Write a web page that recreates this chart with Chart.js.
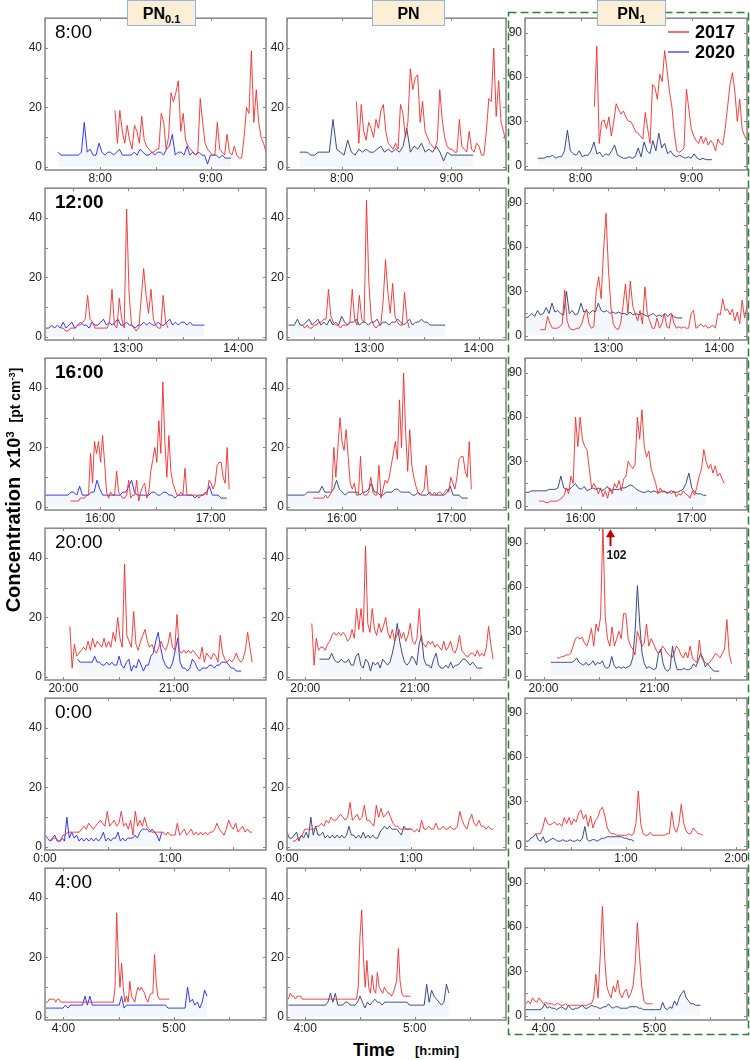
<!DOCTYPE html>
<html><head><meta charset="utf-8">
<script src="https://cdn.jsdelivr.net/npm/chart.js@4.4.1/dist/chart.umd.min.js"></script>
<style>
html,body{margin:0;padding:0;background:#fff}
body{width:750px;height:1060px;position:relative;overflow:hidden;font-family:'Liberation Sans',Arial,sans-serif;color:#000}
canvas{position:absolute;z-index:1}
.hdr{position:absolute;top:0;height:26px;background:#fcefd5;border:1px solid #93b5dd;box-sizing:border-box;font-weight:bold;font-size:16px;text-align:center;line-height:25px;z-index:4}
.hdr sub{font-size:11px;vertical-align:-4px;line-height:0}
.rowlab{position:absolute;left:55px;font-size:19px;line-height:19px;z-index:3;white-space:nowrap}
.leg{position:absolute;font-weight:bold;font-size:18px;line-height:18px;z-index:3}
.legl{position:absolute;height:2px;width:21px;z-index:3}
#ytitle{position:absolute;left:14px;top:490px;transform:translate(-50%,-50%) rotate(-90deg);white-space:nowrap;font-weight:bold;line-height:22px;z-index:3}
#ytitle sup{font-size:65%;line-height:0;vertical-align:0.55em}
svg{position:absolute;left:0;top:0;z-index:2}
</style></head>
<body>
<svg width="750" height="1060"><rect x="508.5" y="12.5" width="240" height="1022" fill="none" stroke="#2f7f33" stroke-width="1.5" stroke-dasharray="8 4"/></svg>
<div class="hdr" style="left:127px;width:69px">PN<sub>0.1</sub></div>
<div class="hdr" style="left:372px;width:73px">PN</div>
<div class="hdr" style="left:597px;width:69px">PN<sub>1</sub></div>
<div class="legl" style="left:668px;top:31px;background:#f07070"></div>
<div class="leg" style="left:695px;top:23px">2017</div>
<div class="legl" style="left:668px;top:51px;background:#7c7cf0"></div>
<div class="leg" style="left:695px;top:43px">2020</div>
<div id="ytitle"><span style="font-size:20px">Concentration</span>&nbsp;&nbsp;<span style="font-size:18px">x10<sup>3</sup></span>&nbsp;&nbsp;<span style="font-size:14px">[pt cm<sup>-3</sup>]</span></div>
<div style="position:absolute;left:353px;top:1041px;font-weight:bold;font-size:18px;line-height:18px">Time</div>
<div style="position:absolute;left:415px;top:1044px;font-weight:bold;font-size:13px;line-height:13px">[h:min]</div>
<script>
// ---------------- DATA ----------------
const rowLabels = ['8:00','12:00','16:00','20:00','0:00','4:00'];
const columnNames = ['PN0.1','PN','PN1'];
const seriesNames = ['2017','2020'];

// x-axis windows (minutes of the day) per row
const xMin_PN01 = [450,735,930,1190,0,230];
const xMax_PN01 = [570,855,1050,1310,106,350];
const xMin_PN   = [450,735,930,1190,0,230];
const xMax_PN   = [570,855,1050,1310,106,350];
const xMin_PN1  = [450,735,930,1190,5,230];
const xMax_PN1  = [570,855,1050,1310,126,350];

// x tick labels (minutes of the day)
const xTicks_PN01 = [[480,540],[780,840],[960,1020],[1200,1260],[0,60],[240,300]];
const xTicks_PN   = [[480,540],[780,840],[960,1020],[1200,1260],[0,60],[240,300]];
const xTicks_PN1  = [[480,540],[780,840],[960,1020],[1200,1260],[60,120],[240,300]];

// y ticks
const yTicks_PN  = [0,20,40];
const yMinor_PN  = [0,10,20,30,40];
const yTicks_PN1 = [0,30,60,90];
const yMinor_PN1 = [0,15,30,45,60,75,90];

// measurement start / end times (minutes) for each series, per row
const start2017_PN01 = [488,743.6,943.8,1203.5,3,230.5];
const end2017_PN01   = [570,801.8,1030,1302.5,99.3,297.5];
const start2020_PN01 = [457,735.5,930,1207.7,0,230.5];
const end2020_PN01   = [551,821.5,1028.7,1296.5,56,318];
const start2017_PN   = [488,743.4,944.4,1203.6,2.8,230.8];
const end2017_PN     = [570,802,1031,1302.9,99.8,297.7];
const start2020_PN   = [457,735.8,930,1207.8,0,230.8];
const end2020_PN     = [552,821.6,1029,1297,60,318.7];
const start2017_PN1  = [487.5,743.3,937.5,1207.3,10.8,230.5];
const end2017_PN1    = [570,855,1037.8,1301.6,101.9,299];
const start2020_PN1  = [457,735.5,930.5,1204,5.5,230.5];
const end2020_PN1    = [551,820,1028,1295,64.4,324.8];

// concentrations x10^3 pt/cm3
const PN01_2017_08 = [19,8,19,12,8,14,9,6,14,12,8,17,9,7,6,5,5,6,6,18,15,6,10,25,22,25,29,12,18,9,7,6,5,4,5,23,15,8,6,5,4,4,15,6,5,4,11,5,4,7,4,3,3,10,20,18,39,15,26,15,10,8,5];
const PN01_2020_08 = [5,4,4,4,4,4,4,4,5,15,5,6,4,4,8,5,4,5,5,4,5,6,4,4,4,4,5,4,6,5,4,4,5,4,5,5,4,6,7,11,4,5,5,4,7,4,5,4,5,4,4,1,4,4,4,3,4,3,3,3];
const PN_2017_08 = [22,8,21,12,9,15,13,10,16,13,19,21,12,8,7,6,8,6,21,18,10,15,33,26,30,31,15,22,12,10,8,7,6,9,26,16,10,7,6,6,5,5,16,7,6,5,12,6,5,8,7,4,4,12,23,22,40,17,29,15,12,8];
const PN_2020_08 = [5,5,5,4,4,5,5,5,5,16,6,5,4,9,5,4,6,5,6,5,5,6,7,5,6,5,6,5,7,13,5,7,6,8,5,6,5,7,5,2,5,4,4,4,4,4,4,4];
const PN1_2017_08 = [40,81,15,30,31,25,33,20,30,42,38,35,37,33,30,30,27,23,22,20,18,36,25,15,55,53,45,62,57,78,65,50,40,22,10,9,10,12,52,38,25,20,17,15,20,15,19,14,17,15,10,18,15,14,25,40,55,63,50,30,45,25,20,17];
const PN1_2020_08 = [5,5,5,6,6,7,5,6,6,10,24,10,8,7,10,6,7,7,10,16,8,9,6,8,7,10,14,7,6,5,5,6,5,6,12,6,16,10,8,17,10,22,12,15,8,10,7,6,7,6,5,6,5,8,5,4,5,4,4,4];

const PN01_2017_12 = [3,3,2,2,3,3,3,4,4,5,6,14,6,5,3,3,3,3,3,3,5,16,4,3,13,6,3,43,15,4,3,2,3,13,23,14,8,16,6,4,3,3,14,5,3];
const PN01_2020_12 = [3,3,4,3,4,3,5,3,4,5,3,4,5,4,4,3,5,4,4,5,6,4,5,4,5,6,4,4,5,4,4,3,4,4,5,4,5,4,4,5,4,4,5,6,4,5,4,5,5,4,5,4,4,4,4,4];
const PN_2017_12 = [4,3,4,3,3,4,4,5,5,6,6,16,7,5,4,4,3,4,4,4,5,16,6,4,14,6,5,46,18,6,4,3,4,4,12,26,15,8,18,7,5,4,4,15,6,3];
const PN_2020_12 = [4,4,4,6,4,4,5,6,4,5,6,4,5,4,6,4,5,4,7,5,4,5,5,6,4,5,5,4,5,5,6,4,5,5,4,5,5,6,5,4,5,6,4,5,5,6,5,5,4,4,4,4,4,4];
const PN1_2017_12 = [4,4,4,13,8,5,5,5,6,8,31,10,5,4,4,5,5,8,14,18,8,5,6,30,40,25,58,83,45,20,8,5,4,8,20,35,15,37,20,15,10,17,8,33,15,10,5,5,12,5,8,15,6,5,15,8,5,6,5,6,5,5,15,17,5,6,8,6,7,5,6,7,5,15,14,25,17,18,14,18,10,16,8,24,12,20];
const PN1_2020_12 = [12,13,15,13,17,14,15,19,15,22,16,17,15,14,30,15,17,14,15,22,16,17,15,17,16,22,17,16,17,15,16,15,16,15,15,14,16,14,15,14,15,14,13,14,15,13,14,13,15,13,15,13,12,12,12];

const PN01_2017_16 = [2,2,2,2,2,3,3,3,4,4,18,8,22,18,22,15,24,15,5,3,5,4,4,12,5,4,3,3,4,9,3,4,4,9,2,5,7,8,3,5,12,16,20,15,29,18,42,22,10,24,12,8,6,4,4,5,4,13,4,4,4,4,4,4,3,4,4,5,4,9,8,6,8,14,15,15,10,8,20,6];
const PN01_2020_16 = [4,4,4,4,4,4,4,4,4,5,5,4,7,4,4,4,5,5,9,6,4,4,4,4,4,4,4,5,5,7,9,5,4,4,4,4,4,5,5,4,4,5,5,4,4,3,4,4,4,4,4,4,3,4,4,4,5,7,4,4,4,3,3,3];
const PN_2017_16 = [3,3,3,3,3,3,4,3,4,5,20,10,20,30,22,19,26,17,8,6,8,4,4,17,5,4,4,5,10,5,4,4,14,3,6,9,8,10,14,18,22,16,36,20,45,25,12,26,14,10,7,5,4,5,6,14,5,4,4,5,4,5,5,4,5,6,5,10,8,6,10,16,17,17,12,10,22,6];
const PN_2020_16 = [4,4,4,4,4,4,4,5,5,5,5,5,7,5,5,5,6,9,6,5,4,5,5,5,5,4,5,5,6,8,5,5,4,4,5,5,5,6,6,5,5,5,5,4,4,5,4,4,4,5,4,4,4,4,4,5,7,4,4,4,3,3,3];
const PN1_2017_16 = [3,3,3,2,2,3,3,3,3,4,5,7,12,8,20,15,60,40,60,45,40,38,25,12,15,12,8,12,6,10,5,12,8,15,12,17,10,18,20,30,27,25,28,60,45,65,40,33,37,25,20,15,8,12,9,10,8,9,8,10,6,8,7,10,8,7,5,10,7,13,20,25,38,30,25,28,22,27,20,22,18,15];
const PN1_2020_16 = [9,9,10,10,10,10,10,10,11,11,11,12,20,12,11,11,13,15,12,11,13,10,11,12,11,12,10,11,13,10,11,11,11,12,12,13,14,13,11,10,9,9,10,9,10,9,9,10,9,9,10,9,9,10,11,15,22,12,9,8,8,7,7];

const PN01_2017_20 = [17,3,11,7,8,9,10,9,12,9,13,10,12,11,10,13,10,12,10,15,12,20,13,10,38,14,12,10,22,11,9,12,14,16,12,10,11,9,8,10,12,10,9,11,15,10,9,21,9,8,9,8,9,8,9,8,7,6,10,5,8,7,6,8,7,5,14,8,6,5,6,5,6,8,6,5,6,9,15,10,5];
const PN01_2020_20 = [6,5,5,5,5,5,5,7,5,5,4,4,5,4,5,4,4,7,4,3,5,6,2,4,3,6,4,2,4,4,7,8,12,15,10,6,4,3,3,5,9,13,5,3,3,2,3,6,5,3,2,3,3,3,4,4,3,4,4,5,5,5,4,3,3,2,2,2];
const PN_2017_20 = [18,4,13,9,10,10,9,11,12,14,15,14,15,14,15,14,12,13,16,13,23,16,23,15,44,18,15,23,16,14,18,15,17,20,15,13,16,12,14,16,13,15,12,14,18,12,11,13,23,12,11,10,12,11,12,10,11,10,9,12,9,10,12,9,8,10,14,9,8,7,7,8,8,7,9,7,8,7,10,17,11,6];
const PN_2020_20 = [6,6,6,6,6,8,6,5,5,6,5,5,6,4,4,7,8,4,3,6,5,2,5,4,5,3,6,5,4,5,8,12,18,12,8,5,4,5,7,6,4,11,14,6,4,4,3,6,8,4,3,3,4,3,5,3,4,4,5,6,6,5,4,5,4,3,3,3];
const PN1_2017_20 = [12,12,13,13,14,14,15,20,25,26,25,26,22,20,25,32,20,35,30,40,102,40,25,20,33,20,25,30,25,42,42,25,20,18,14,30,25,20,22,35,20,25,22,18,15,16,20,18,15,14,12,15,20,18,14,12,16,12,20,12,10,9,24,12,10,8,8,10,12,15,14,12,15,18,38,15,8];
const PN1_2020_20 = [9,9,9,9,9,9,9,9,9,9,10,12,9,8,7,9,7,8,10,7,9,8,10,6,5,6,13,7,5,6,5,6,5,6,7,12,30,61,35,15,8,5,6,5,4,5,15,18,8,4,3,5,20,10,4,4,4,5,4,4,5,8,6,10,15,12,6,8,6,4,3,3,3];

const PN01_2017_00 = [2,3,3,2,2,4,4,5,5,5,5,5,5,6,7,6,8,7,6,7,8,9,8,7,12,7,8,9,7,8,12,7,8,6,9,4,12,7,9,7,10,7,6,5,5,5,5,5,5,4,5,4,4,4,8,4,5,6,4,5,6,4,5,4,5,4,5,4,5,5,6,8,6,5,4,6,9,7,6,8,5,6,7,5,6,5,5];
const PN01_2020_00 = [4,3,2,3,4,2,2,3,2,10,3,5,3,4,2,3,2,3,2,3,2,3,2,3,5,2,3,2,3,3,5,2,3,2,3,3,3,4,3,5,6,6,6,5,6,5,4,2,5];
const PN_2017_00 = [2,2,3,3,4,6,6,6,6,6,7,7,8,7,9,8,10,9,9,10,11,10,9,10,15,9,10,11,9,10,14,9,9,8,7,14,10,13,10,11,12,10,8,7,7,6,6,6,6,6,6,5,6,5,9,6,6,7,6,6,8,6,6,7,6,6,7,6,6,7,12,9,7,6,9,11,8,7,9,7,7,6,7,6,6];
const PN_2020_00 = [5,3,3,4,5,2,4,3,5,3,10,4,7,4,4,5,3,4,3,4,3,4,3,4,3,4,7,4,4,3,4,3,5,3,4,3,4,3,3,5,6,7,6,7,6,6,6,5,4,7,6,6,6];
const PN1_2017_00 = [8,8,8,12,19,15,14,15,16,14,15,13,19,15,19,14,18,16,22,24,18,21,13,20,12,17,19,24,26,20,12,9,8,8,7,7,7,7,7,8,7,8,15,37,15,8,7,7,9,7,7,7,7,7,7,8,8,23,12,9,15,28,15,10,8,8,12,10,8,8,7];
const PN1_2020_00 = [3,3,5,6,8,4,3,6,2,3,4,5,4,3,3,4,3,3,4,3,3,4,3,5,13,4,3,4,4,3,4,5,5,6,6,6,6,6,6,6,5,5,4,4,3];

const PN01_2017_04 = [5,5,6,6,6,6,5,6,6,5,5,5,5,5,5,5,5,5,5,5,5,5,5,5,5,5,5,5,5,5,5,5,5,5,5,5,5,5,5,5,5,5,10,35,20,10,18,10,5,7,5,12,7,6,5,8,10,9,10,9,8,6,5,7,8,8,21,12,7,6,6,6,6,6,6,6];
const PN01_2020_04 = [3,3,3,3,3,3,3,3,4,3,4,4,4,4,4,4,7,4,7,4,4,4,4,4,4,4,4,4,4,4,4,7,3,4,4,4,4,4,4,4,4,4,4,4,4,4,4,4,4,4,3,3,3,3,3,3,3,3,10,5,6,4,5,3,5,9,7];
const PN_2017_04 = [6,8,7,7,6,7,7,7,6,6,6,6,6,6,6,6,6,6,6,6,6,6,6,6,6,6,6,6,6,6,6,6,6,6,6,6,6,6,6,6,10,27,36,20,10,19,10,8,14,9,8,15,10,9,8,10,9,8,8,7,8,10,12,23,12,8,7,7,7,7,7];
const PN_2020_04 = [4,4,4,4,4,4,4,4,4,4,4,4,4,4,4,4,5,8,5,8,4,4,4,5,5,4,4,4,5,7,5,3,5,4,5,6,5,5,4,5,5,5,5,5,5,5,5,5,5,4,4,4,4,4,4,4,11,5,9,7,6,5,4,5,11,8];
const PN1_2017_04 = [8,10,8,12,10,9,12,10,8,9,8,8,8,7,8,8,7,7,8,7,7,7,7,7,7,7,7,7,7,8,8,12,28,12,40,74,40,20,15,12,20,16,24,15,12,16,18,12,15,20,35,63,40,20,10,8,8,8,8];
const PN1_2020_04 = [4,4,4,4,4,4,4,5,8,5,6,5,5,4,5,6,5,4,7,5,4,5,5,6,7,5,5,6,7,6,6,5,5,6,6,8,6,5,6,6,5,5,5,5,6,6,6,6,5,5,4,4,4,4,4,4,4,4,9,5,4,6,5,10,7,12,15,17,12,10,8,8,7,7,7];

// annotation for the clipped peak
const peakLabel = '102';

// ---------------- BUILD ----------------
const S2017 = {
  PN01:[PN01_2017_08,PN01_2017_12,PN01_2017_16,PN01_2017_20,PN01_2017_00,PN01_2017_04],
  PN:[PN_2017_08,PN_2017_12,PN_2017_16,PN_2017_20,PN_2017_00,PN_2017_04],
  PN1:[PN1_2017_08,PN1_2017_12,PN1_2017_16,PN1_2017_20,PN1_2017_00,PN1_2017_04]};
const S2020 = {
  PN01:[PN01_2020_08,PN01_2020_12,PN01_2020_16,PN01_2020_20,PN01_2020_00,PN01_2020_04],
  PN:[PN_2020_08,PN_2020_12,PN_2020_16,PN_2020_20,PN_2020_00,PN_2020_04],
  PN1:[PN1_2020_08,PN1_2020_12,PN1_2020_16,PN1_2020_20,PN1_2020_00,PN1_2020_04]};
const T = {
  PN01:{s17:start2017_PN01,e17:end2017_PN01,s20:start2020_PN01,e20:end2020_PN01,xmin:xMin_PN01,xmax:xMax_PN01,xt:xTicks_PN01},
  PN:{s17:start2017_PN,e17:end2017_PN,s20:start2020_PN,e20:end2020_PN,xmin:xMin_PN,xmax:xMax_PN,xt:xTicks_PN},
  PN1:{s17:start2017_PN1,e17:end2017_PN1,s20:start2020_PN1,e20:end2020_PN1,xmin:xMin_PN1,xmax:xMax_PN1,xt:xTicks_PN1}};

const COLS = [
  {id:'PN01',left:45,right:266,yMin:-1,yMax:50,yT:yTicks_PN,yM:yMinor_PN,c20:'rgba(35,35,240,0.9)'},
  {id:'PN',left:287,right:506,yMin:-1,yMax:50,yT:yTicks_PN,yM:yMinor_PN,c20:'rgba(44,62,118,0.92)'},
  {id:'PN1',left:525,right:747,yMin:-3,yMax:100,yT:yTicks_PN1,yM:yMinor_PN1,c20:'rgba(44,62,118,0.92)'}];
const RED='rgba(240,45,45,0.9)';
const FILL='rgba(200,222,238,0.2)';
const TF="'Liberation Sans Narrow','Arial Narrow','Liberation Sans',Arial,sans-serif";
const AXW=35, PADT=5, PADR=5, AXH=20;

function fmt(v){const h=((Math.floor(v/60))%24+24)%24;const m=Math.round(((v%60)+60)%60);return h+':'+String(m).padStart(2,'0');}
function pts(vals,s,e){const n=vals.length;return vals.map((y,i)=>({x:s+i*(e-s)/(n-1),y:y}));}

const framePlugin={
  id:'frame',
  afterDatasetsDraw(chart,args,o){
    const {ctx,chartArea:a,scales:{x,y}}=chart;
    ctx.save();
    ctx.strokeStyle='#858585';ctx.lineWidth=1.5;
    ctx.strokeRect(a.left,a.top,a.right-a.left,a.bottom-a.top);
    ctx.lineWidth=1;ctx.beginPath();
    o.yMinor.forEach(v=>{const p=Math.round(y.getPixelForValue(v))+0.5;ctx.moveTo(a.left,p);ctx.lineTo(a.left+3,p);ctx.moveTo(a.right,p);ctx.lineTo(a.right-3,p);});
    for(let v=Math.ceil(x.min/30)*30;v<=x.max;v+=30){const p=Math.round(x.getPixelForValue(v))+0.5;ctx.moveTo(p,a.bottom);ctx.lineTo(p,a.bottom-3);ctx.moveTo(p,a.top);ctx.lineTo(p,a.top+3);}
    ctx.stroke();
    if(o.arrow){
      const ds=chart.data.datasets[0].data;let mi=0;ds.forEach((p,i)=>{if(p.y>ds[mi].y)mi=i;});
      const px=Math.round(x.getPixelForValue(ds[mi].x))+7.5;
      ctx.strokeStyle='#c00000';ctx.fillStyle='#c00000';ctx.lineWidth=2;
      ctx.beginPath();ctx.moveTo(px,a.top+7);ctx.lineTo(px,a.top+18);ctx.stroke();
      ctx.beginPath();ctx.moveTo(px,a.top+1);ctx.lineTo(px-4.5,a.top+9);ctx.lineTo(px+4.5,a.top+9);ctx.closePath();ctx.fill();
      ctx.fillStyle='#111';ctx.font="bold 12px 'Liberation Sans',Arial,sans-serif";ctx.textBaseline='alphabetic';ctx.textAlign='left';
      ctx.fillText(o.arrow,px-4,a.top+31);
    }
    ctx.restore();
  }
};

for(let r=0;r<6;r++){
  const top=13+170*r, bottom=170+170*r;
  const lab=document.createElement('div');lab.className='rowlab';lab.textContent=rowLabels[r];
  lab.style.top=(21.5+170*r)+'px';
  if(r===1||r===2)lab.style.fontWeight='bold';
  document.body.appendChild(lab);
  COLS.forEach(col=>{
    const t=T[col.id];
    const W=(col.right-col.left)+AXW+PADR, H=(bottom-top)+PADT+AXH;
    const cv=document.createElement('canvas');cv.width=W;cv.height=H;
    cv.style.left=(col.left-AXW)+'px';cv.style.top=(top-PADT)+'px';cv.style.width=W+'px';cv.style.height=H+'px';
    document.body.appendChild(cv);
    const xt=t.xt[r], yT=col.yT;
    new Chart(cv,{
      type:'line',
      data:{datasets:[
        {label:seriesNames[0],data:pts(S2017[col.id][r],t.s17[r],t.e17[r]),borderColor:RED,borderWidth:1,pointRadius:0,tension:0,fill:false},
        {label:seriesNames[1],data:pts(S2020[col.id][r],t.s20[r],t.e20[r]),borderColor:col.c20,borderWidth:1,pointRadius:0,tension:0,fill:'origin',backgroundColor:FILL}
      ]},
      options:{
        responsive:false,animation:false,devicePixelRatio:1,
        layout:{padding:{left:0,right:PADR,top:PADT,bottom:0}},
        plugins:{legend:{display:false},tooltip:{enabled:false},
          frame:{yMinor:col.yM,arrow:(col.id==='PN1'&&r===3)?peakLabel:null}},
        scales:{
          x:{type:'linear',min:t.xmin[r],max:t.xmax[r],
            afterBuildTicks:s=>{s.ticks=xt.map(v=>({value:v}));},
            afterFit:s=>{s.height=AXH;},
            ticks:{callback:v=>fmt(v),font:{size:12,family:TF},color:'#222',padding:1,maxRotation:0,autoSkip:false},
            grid:{display:false,drawTicks:false},border:{display:false}},
          y:{min:col.yMin,max:col.yMax,
            afterBuildTicks:s=>{s.ticks=yT.map(v=>({value:v}));},
            afterFit:s=>{s.width=AXW;},
            ticks:{font:{size:12,family:TF},color:'#222',padding:3},
            grid:{display:false,drawTicks:false},border:{display:false}}
        }
      },
      plugins:[framePlugin]
    });
  });
}
</script>
</body></html>
